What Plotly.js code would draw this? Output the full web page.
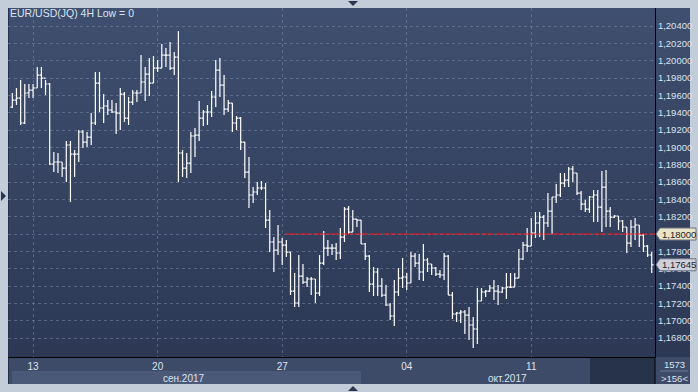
<!DOCTYPE html>
<html><head><meta charset="utf-8">
<script src="https://cdn.plot.ly/plotly-3.0.1.min.js"></script>
<style>
html,body{margin:0;padding:0;background:#c3cdda;}
#wrap{position:relative;width:698px;height:392px;overflow:hidden;background:#c3cdda;}
#panel{position:absolute;left:8px;top:8px;width:682px;height:349px;background:linear-gradient(#3f4f6f,#2c3854);border-left:1px solid #26304a;box-sizing:border-box;}
#strip{position:absolute;left:8px;top:357px;width:682px;height:27px;background:#3d4b69;border-left:1px solid #26304a;box-sizing:border-box;}
#sepband{position:absolute;left:12px;top:371px;width:349px;height:13px;background:#4b5979;}
#scroll{position:absolute;left:590px;top:358px;width:65px;height:26px;background:#27324b;}
#chart{position:absolute;left:0;top:0;width:698px;height:392px;}
.tri{position:absolute;width:0;height:0;}
#tTop{left:348px;top:1px;border-left:5px solid transparent;border-right:5px solid transparent;border-top:5px solid #2a3550;}
#tBot{left:348px;top:386px;border-left:5px solid transparent;border-right:5px solid transparent;border-bottom:5px solid #2a3550;}
#tLeft{left:1px;top:191px;border-top:5px solid transparent;border-bottom:5px solid transparent;border-left:5px solid #2a3550;}
</style></head>
<body>
<div id="wrap">
  <div id="panel"></div>
  <div id="strip"></div>
  <div id="sepband"></div>
  <div id="scroll"></div>
  <div id="chart"></div>
  <div class="tri" id="tTop"></div>
  <div class="tri" id="tBot"></div>
  <div class="tri" id="tLeft"></div>
</div>
<script>
// EUR/USD 4H bars, 12 Sep 2017 - 17 Oct 2017
const openP = [1.19465,1.19546,1.19569,1.19281,1.19627,1.19661,1.19685,1.19834,1.19800,1.19731,
1.18808,1.18831,1.18831,1.18761,1.19027,1.18923,1.18923,1.19177,1.19061,1.19119,
1.19281,1.19742,1.19454,1.19477,1.19431,1.19408,1.19396,1.19615,1.19338,1.19523,
1.19627,1.19627,1.19754,1.19846,1.19742,1.19915,1.19915,1.20065,1.20065,1.19915,
1.20042,1.18935,1.18761,1.18819,1.19131,1.19142,1.19338,1.19408,1.19408,1.19581,
1.19892,1.19719,1.19442,1.19511,1.19281,1.19338,1.19061,1.18715,1.18450,1.18485,
1.18531,1.18531,1.18161,1.17908,1.17815,1.17908,1.17873,1.17792,1.17342,1.17204,
1.17515,1.17446,1.17481,1.17481,1.17319,1.17665,1.17838,1.17838,1.17838,1.17781,
1.17965,1.18288,1.18023,1.18173,1.18161,1.17885,1.17746,1.17423,1.17562,1.17400,
1.17296,1.17181,1.17054,1.17331,1.17492,1.17504,1.17435,1.17746,1.17665,1.17562,
1.17700,1.17654,1.17608,1.17538,1.17527,1.17746,1.17296,1.17077,1.17088,1.17100,
1.17065,1.16950,1.16904,1.17227,1.17331,1.17342,1.17377,1.17342,1.17331,1.17377,
1.17388,1.17388,1.17492,1.17712,1.17873,1.17861,1.18011,1.18127,1.18196,1.18127,
1.18265,1.18427,1.18450,1.18588,1.18623,1.18750,1.18704,1.18473,1.18346,1.18288,
1.18427,1.18450,1.18311,1.18542,1.18265,1.18196,1.18208,1.18150,1.18081,1.17896,
1.18081,1.18104,1.17988,1.17861,1.17758];
const highP = [1.19627,1.19685,1.19777,1.19731,1.19731,1.19731,1.19927,1.19927,1.19777,1.19742,
1.18946,1.18935,1.18831,1.19073,1.19073,1.18969,1.19200,1.19200,1.19177,1.19396,
1.19869,1.19869,1.19615,1.19546,1.19546,1.19511,1.19685,1.19638,1.19581,1.19661,
1.19661,1.20065,1.19927,1.20031,1.20054,1.20008,1.20192,1.20146,1.20215,1.20100,
1.20342,1.18969,1.18935,1.19177,1.19223,1.19535,1.19431,1.19488,1.19650,1.20008,
1.20031,1.19834,1.19546,1.19511,1.19361,1.19350,1.19061,1.18888,1.18542,1.18600,
1.18611,1.18588,1.18277,1.17965,1.18104,1.17954,1.17931,1.17792,1.17550,1.17758,
1.17654,1.17504,1.17504,1.17481,1.17758,1.18035,1.17931,1.17885,1.17896,1.18069,
1.18311,1.18323,1.18277,1.18173,1.18161,1.17896,1.17758,1.17619,1.17608,1.17492,
1.17412,1.17204,1.17469,1.17608,1.17723,1.17550,1.17792,1.17781,1.17769,1.17885,
1.17723,1.17654,1.17619,1.17585,1.17781,1.17758,1.17331,1.17100,1.17123,1.17123,
1.17158,1.17042,1.17377,1.17377,1.17354,1.17412,1.17469,1.17412,1.17388,1.17550,
1.17550,1.17550,1.17827,1.17908,1.18069,1.18185,1.18254,1.18254,1.18219,1.18473,
1.18427,1.18577,1.18704,1.18704,1.18773,1.18785,1.18704,1.18496,1.18392,1.18438,
1.18508,1.18508,1.18727,1.18738,1.18311,1.18219,1.18208,1.18161,1.18081,1.18161,
1.18185,1.18104,1.18000,1.17873,1.17792];
const lowP = [1.19454,1.19488,1.19258,1.19269,1.19569,1.19569,1.19685,1.19685,1.19604,1.18796,
1.18715,1.18704,1.18658,1.18600,1.18369,1.18658,1.18831,1.18992,1.19004,1.19027,
1.19258,1.19408,1.19281,1.19373,1.19396,1.19154,1.19200,1.19292,1.19258,1.19488,
1.19523,1.19627,1.19535,1.19592,1.19742,1.19869,1.19915,1.19927,1.19892,1.19834,
1.18600,1.18658,1.18646,1.18704,1.18888,1.19073,1.19246,1.19258,1.19350,1.19465,
1.19581,1.19373,1.19408,1.19177,1.19200,1.18969,1.18646,1.18300,1.18358,1.18450,
1.18508,1.18069,1.17792,1.17562,1.17758,1.17642,1.17735,1.17296,1.17158,1.17158,
1.17423,1.17388,1.17296,1.17204,1.17285,1.17642,1.17746,1.17758,1.17700,1.17712,
1.17908,1.18000,1.18023,1.18081,1.17885,1.17700,1.17331,1.17285,1.17285,1.17273,
1.17169,1.17008,1.16938,1.17285,1.17377,1.17354,1.17435,1.17619,1.17469,1.17458,
1.17562,1.17527,1.17515,1.17492,1.17469,1.17296,1.17019,1.16985,1.16973,1.16846,
1.16777,1.16685,1.16731,1.17227,1.17273,1.17331,1.17238,1.17181,1.17319,1.17250,
1.17377,1.17388,1.17492,1.17700,1.17792,1.17861,1.17954,1.17965,1.17931,1.18081,
1.18000,1.18358,1.18427,1.18542,1.18542,1.18600,1.18450,1.18277,1.18254,1.18242,
1.18138,1.18138,1.18023,1.18081,1.18081,1.18185,1.18046,1.18023,1.17781,1.17850,
1.17931,1.17850,1.17792,1.17735,1.17550];
const closeP = [1.19546,1.19569,1.19281,1.19627,1.19661,1.19685,1.19834,1.19800,1.19731,1.18808,
1.18831,1.18831,1.18761,1.19027,1.18923,1.18923,1.19177,1.19061,1.19119,1.19281,
1.19742,1.19454,1.19477,1.19431,1.19408,1.19396,1.19615,1.19338,1.19523,1.19627,
1.19627,1.19754,1.19846,1.19742,1.19915,1.19915,1.20065,1.20065,1.19915,1.20042,
1.18935,1.18761,1.18819,1.19131,1.19142,1.19338,1.19408,1.19408,1.19581,1.19892,
1.19719,1.19442,1.19511,1.19281,1.19338,1.19061,1.18715,1.18450,1.18485,1.18531,
1.18531,1.18161,1.17908,1.17815,1.17908,1.17873,1.17792,1.17342,1.17204,1.17515,
1.17446,1.17481,1.17481,1.17319,1.17665,1.17838,1.17838,1.17838,1.17781,1.17965,
1.18288,1.18023,1.18173,1.18161,1.17885,1.17746,1.17423,1.17562,1.17400,1.17296,
1.17181,1.17054,1.17331,1.17492,1.17504,1.17435,1.17746,1.17665,1.17562,1.17700,
1.17654,1.17608,1.17538,1.17527,1.17746,1.17296,1.17077,1.17088,1.17100,1.17065,
1.16950,1.16904,1.17227,1.17331,1.17342,1.17377,1.17342,1.17331,1.17377,1.17388,
1.17388,1.17492,1.17712,1.17873,1.17861,1.18011,1.18127,1.18196,1.18127,1.18265,
1.18427,1.18450,1.18588,1.18623,1.18750,1.18704,1.18473,1.18346,1.18288,1.18427,
1.18450,1.18311,1.18542,1.18265,1.18196,1.18208,1.18150,1.18081,1.17896,1.18081,
1.18104,1.17988,1.17861,1.17758,1.17645];

const dayLabels = ["13","20","27","04","11"];      // weekly day ticks (Wednesdays)
const monthLabels = ["сен.2017","окт.2017"];
const priceTicks = [1.168,1.170,1.172,1.174,1.176,1.178,1.180,1.182,1.184,1.186,
                    1.188,1.190,1.192,1.194,1.196,1.198,1.200,1.202,1.204];
const titleText = "EUR/USD(JQ) 4H Low = 0";
const levelPrice = 1.18000;        // horizontal red level
const lastPrice = 1.17645;
const barCountText = "1573";
const visibleText = ">156<";

// layout helpers (positions, not data)
const BARS_PER_WEEK = 30, FIRST_TICK_BAR = 5, OCT_FIRST_BAR = 84, LEVEL_START_BAR = 65.7;
const xIdx = closeP.map((_, i) => i);
const xRange = [-1.04, 154.79];
const yRange = [1.16581, 1.20608];
const tickVals = dayLabels.map((_, k) => FIRST_TICK_BAR + k * BARS_PER_WEEK);

const FONT = '"Liberation Sans", Arial, sans-serif';
const TXT = '#dbe3ee';
const FS = 9.5;
const fmt = v => v.toFixed(5).replace('.', ',');
// the level tag covers its own tick label, as in the reference
const priceTickText = priceTicks.map(v => Math.abs(v - levelPrice) < 1e-9 ? '' : fmt(v));

const trace = {
  type: 'ohlc', x: xIdx, open: openP, high: highP, low: lowP, close: closeP,
  increasing: {line: {color: '#ffffff', width: 1.2}},
  decreasing: {line: {color: '#ffffff', width: 1.2}},
  tickwidth: 0.45, hoverinfo: 'skip'
};

const sepCenter = (xRange[0] + OCT_FIRST_BAR - 0.5) / 2;
const octCenter = (OCT_FIRST_BAR - 0.5 + xRange[1]) / 2;

function tag(price, fill, label) {
  return {
    shape: {type: 'path', xref: 'paper', yref: 'y', xsizemode: 'pixel', ysizemode: 'pixel',
      xanchor: 1, yanchor: price, path: 'M 1 0 L 5 6 L 41 6 L 41 -6 L 5 -6 Z',
      fillcolor: fill, line: {color: '#6d7284', width: 1}, layer: 'above'},
    ann: {xref: 'paper', yref: 'y', x: 1, y: price, xanchor: 'left', yanchor: 'middle', xshift: 5,
      text: label, showarrow: false, font: {family: FONT, size: FS, color: '#1c2232'}}
  };
}
const t1 = tag(levelPrice, '#e8e6c6', fmt(levelPrice));
const t2 = tag(lastPrice, '#cdd1d9', fmt(lastPrice));

const layout = {
  width: 698, height: 392,
  margin: {l: 8, r: 43, t: 8, b: 35, pad: 0},
  paper_bgcolor: 'rgba(0,0,0,0)', plot_bgcolor: 'rgba(0,0,0,0)',
  showlegend: false,
  title: {text: titleText, xref: 'paper', x: 0, xanchor: 'left', yref: 'container', y: 0.965, yanchor: 'middle',
          pad: {l: 2}, font: {family: FONT, size: 10.5, color: TXT}},
  xaxis: {range: xRange, rangeslider: {visible: false}, tickmode: 'array', tickvals: tickVals, ticktext: dayLabels,
          showgrid: true, gridcolor: 'rgba(120,135,165,0.55)', griddash: '3px,3px', gridwidth: 1,
          showline: true, linecolor: '#000000', linewidth: 1, ticks: '', zeroline: false,
          tickfont: {family: FONT, size: 10, color: TXT}, fixedrange: true},
  yaxis: {range: yRange, side: 'right', tickmode: 'array', tickvals: priceTicks, ticktext: priceTickText,
          showgrid: true, gridcolor: 'rgba(120,135,165,0.55)', griddash: '3px,3px', gridwidth: 1,
          showline: true, linecolor: '#000000', linewidth: 1, ticks: '', zeroline: false,
          tickfont: {family: FONT, size: FS, color: TXT}, fixedrange: true},
  shapes: [
    {type: 'line', xref: 'x', yref: 'y', x0: LEVEL_START_BAR, x1: xRange[1], y0: levelPrice, y1: levelPrice,
     line: {color: '#ff1a1a', width: 1, dash: '6px,1px'}},
    {type: 'line', xref: 'paper', yref: 'paper', x0: 1, x1: 1, y0: 0, y1: -27 / 349, line: {color: '#000', width: 1}},
    {type: 'line', xref: 'paper', yref: 'paper', x0: 1 + 5 / 647, x1: 1 + 33 / 647, y0: -14 / 349, y1: -14 / 349,
     line: {color: '#6f7d98', width: 1}},
    t1.shape, t2.shape
  ],
  annotations: [
    {xref: 'x', yref: 'paper', x: sepCenter, y: -21 / 349, yanchor: 'middle', text: monthLabels[0], showarrow: false,
     font: {family: FONT, size: 10, color: TXT}},
    {xref: 'x', yref: 'paper', x: octCenter, y: -21 / 349, yanchor: 'middle', text: monthLabels[1], showarrow: false,
     font: {family: FONT, size: 10, color: TXT}},
    {xref: 'paper', yref: 'paper', x: 1 + 19 / 647, y: -7.5 / 349, yanchor: 'middle', xanchor: 'center', text: barCountText,
     showarrow: false, font: {family: FONT, size: FS, color: TXT}},
    {xref: 'paper', yref: 'paper', x: 1 + 19 / 647, y: -21 / 349, yanchor: 'middle', xanchor: 'center', text: visibleText,
     showarrow: false, font: {family: FONT, size: FS, color: TXT}},
    t1.ann, t2.ann
  ]
};

Plotly.newPlot('chart', [trace], layout, {staticPlot: true, displayModeBar: false});
</script>
</body></html>
